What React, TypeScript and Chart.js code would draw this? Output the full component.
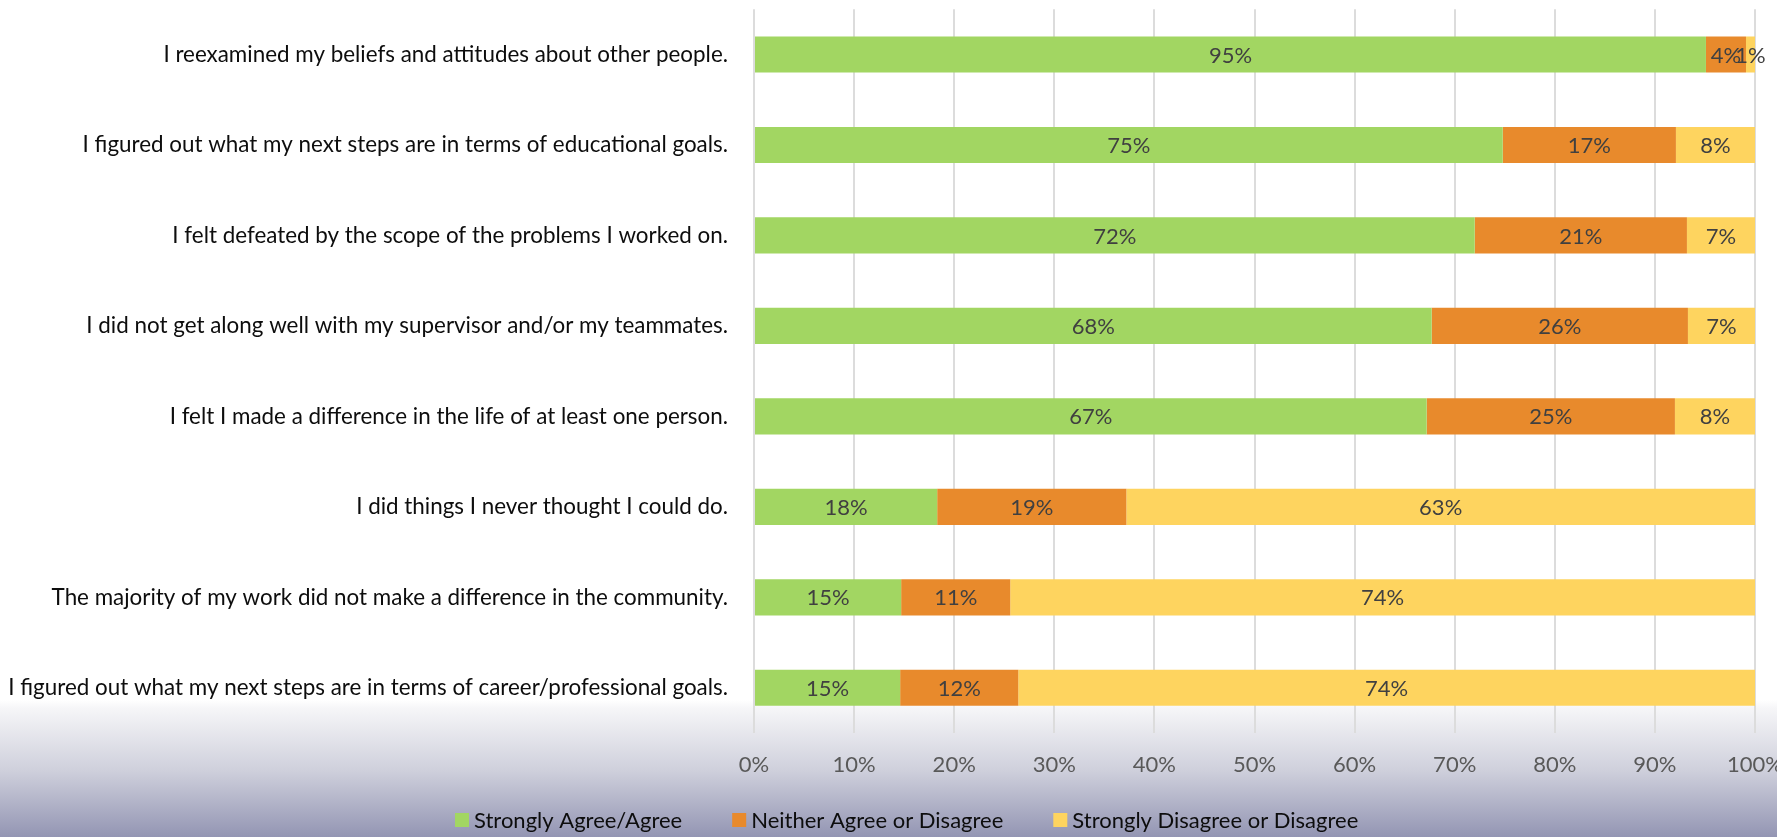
import React, { useEffect, useRef } from "react";
import { Chart, registerables } from "chart.js";

Chart.register(...registerables);

const categories = [
  "I reexamined my beliefs and attitudes about other people.",
  "I figured out what my next steps are in terms of educational goals.",
  "I felt defeated by the scope of the problems I worked on.",
  "I did not get along well with my supervisor and/or my teammates.",
  "I felt I made a difference in the life of at least one person.",
  "I did things I never thought I could do.",
  "The majority of my work did not make a difference in the community.",
  "I figured out what my next steps are in terms of career/professional goals.",
];

const seriesNames = [
  "Strongly Agree/Agree",
  "Neither Agree or Disagree",
  "Strongly Disagree or Disagree",
];

const agreeValues = [95.1, 74.8, 72.0, 67.7, 67.2, 18.3, 14.7, 14.6];
const neutralValues = [4.0, 17.3, 21.2, 25.6, 24.8, 18.9, 10.9, 11.8];
const disagreeValues = [0.9, 7.9, 6.8, 6.7, 8.0, 62.8, 74.4, 73.6];

const xTickValues = [0, 10, 20, 30, 40, 50, 60, 70, 80, 90, 100];

const seriesColors = ["#a2d662", "#e88a2c", "#fed45f"];

const FONT = "Lato, 'Open Sans', sans-serif";

export default function App() {
  const canvasRef = useRef<HTMLCanvasElement | null>(null);

  useEffect(() => {
    const canvas = canvasRef.current;
    if (!canvas) return;

    const backgroundPlugin = {
      id: "bgGradient",
      beforeDraw(chart: any) {
        const { ctx, width, height } = chart;
        ctx.save();
        const g = ctx.createLinearGradient(0, 0, 0, height);
        g.addColorStop(0, "#ffffff");
        g.addColorStop(700 / 837, "#ffffff");
        g.addColorStop(708 / 837, "#f6f6f8");
        g.addColorStop(770 / 837, "#cfd0dc");
        g.addColorStop(1, "#9395b3");
        ctx.fillStyle = g;
        ctx.fillRect(0, 0, width, height);
        ctx.restore();
      },
    };

    const dataLabelPlugin = {
      id: "segmentLabels",
      afterDatasetsDraw(chart: any) {
        const { ctx } = chart;
        ctx.save();
        ctx.font = `22px ${FONT}`;
        ctx.fillStyle = "#404040";
        ctx.textAlign = "center";
        ctx.textBaseline = "middle";
        chart.data.datasets.forEach((ds: any, i: number) => {
          const meta = chart.getDatasetMeta(i);
          meta.data.forEach((bar: any, j: number) => {
            const v = ds.data[j];
            const p = bar.getProps(["x", "base", "y"], true);
            ctx.fillText(Math.round(v) + "%", (p.x + p.base) / 2, p.y + 1);
          });
        });
        ctx.restore();
      },
    };

    const legendPlugin = {
      id: "customLegend",
      afterDraw(chart: any) {
        const { ctx } = chart;
        ctx.save();
        ctx.font = `22px ${FONT}`;
        ctx.textBaseline = "middle";
        ctx.textAlign = "left";
        let x = 455;
        const yc = 820;
        chart.data.datasets.forEach((ds: any) => {
          ctx.fillStyle = ds.backgroundColor;
          ctx.fillRect(x, yc - 7, 14, 14);
          ctx.fillStyle = "#0d0d0d";
          const tx = x + 19;
          ctx.fillText(ds.label, tx, yc + 1);
          x = tx + ctx.measureText(ds.label).width + 50;
        });
        ctx.restore();
      },
    };

    const chart = new Chart(canvas, {
      type: "bar",
      data: {
        labels: categories,
        datasets: [agreeValues, neutralValues, disagreeValues].map((vals, i) => ({
          label: seriesNames[i],
          data: vals,
          backgroundColor: seriesColors[i],
          borderWidth: 0,
          barPercentage: 0.8,
          categoryPercentage: 0.5,
        })),
      },
      options: {
        indexAxis: "y",
        animation: false,
        responsive: true,
        maintainAspectRatio: false,
        layout: { padding: { top: 9.3, right: 22, left: 0, bottom: 0 } },
        plugins: {
          legend: { display: false },
          tooltip: { enabled: false },
        },
        scales: {
          x: {
            stacked: true,
            min: 0,
            max: 100,
            afterBuildTicks(scale: any) {
              scale.ticks = xTickValues.map((v) => ({ value: v }));
            },
            afterFit(scale: any) {
              scale.height = 104;
              scale.paddingLeft = 0;
              scale.paddingRight = 0;
            },
            ticks: {
              callback: (v: any) => v + "%",
              color: "#595959",
              font: { family: FONT, size: 22 },
              padding: 19,
              maxRotation: 0,
            },
            grid: { color: "#dcdcdc", lineWidth: 2, drawTicks: false },
            border: { display: false },
          },
          y: {
            stacked: true,
            afterFit(scale: any) {
              scale.width = 754;
              scale.paddingTop = 0;
              scale.paddingBottom = 0;
            },
            ticks: {
              color: "#0d0d0d",
              font: { family: FONT, size: 22.4 },
              padding: 26,
              autoSkip: false,
            },
            grid: { display: false, drawTicks: false },
            border: { display: false },
          },
        },
      },
      plugins: [backgroundPlugin, dataLabelPlugin, legendPlugin],
    });

    return () => chart.destroy();
  }, []);

  return (
    <div style={{ position: "fixed", left: 0, top: 0, width: "100vw", height: "100vh" }}>
      <canvas ref={canvasRef} />
    </div>
  );
}
